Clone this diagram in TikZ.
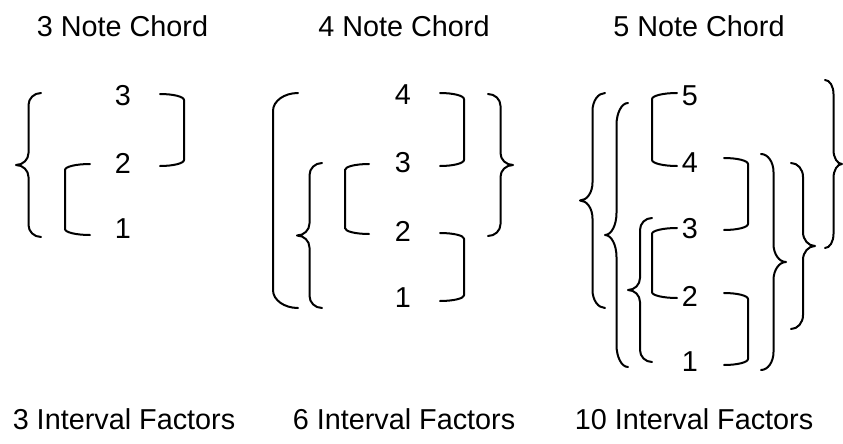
\documentclass[tikz,border=0pt]{standalone}
\usepackage{fontspec}
\setmainfont{Liberation Sans}
\newcommand{\Brk}[4]{% #1 end x, #2 line x, #3 top y, #4 bottom y
  \pgfmathsetmacro\bry{(#4-#3)/12}%
  \pgfmathsetmacro\bcx{#2+0.448*(#1-#2)}%
  \draw[brk] (#1,#3) .. controls (\bcx,#3) and (#2,{#3+0.448*\bry}) .. (#2,{#3+\bry})
    -- (#2,{#4-\bry}) .. controls (#2,{#4-0.448*\bry}) and (\bcx,#4) .. (#1,#4);}
\newcommand{\Brc}[4]{% #1 end x, #2 tip x, #3 top y, #4 bottom y
  \pgfmathsetmacro\bry{(#4-#3)/12}%
  \pgfmathsetmacro\bxm{(#1+#2)/2}%
  \pgfmathsetmacro\bym{(#3+#4)/2}%
  \pgfmathsetmacro\bca{\bxm+0.448*(#1-\bxm)}%
  \pgfmathsetmacro\bcb{#2+0.552*(\bxm-#2)}%
  \draw[brk] (#1,#3) .. controls (\bca,#3) and (\bxm,{#3+0.448*\bry}) .. (\bxm,{#3+\bry})
    -- (\bxm,{\bym-\bry}) .. controls (\bxm,{\bym-0.448*\bry}) and (\bcb,\bym) .. (#2,\bym)
    .. controls (\bcb,\bym) and (\bxm,{\bym+0.448*\bry}) .. (\bxm,{\bym+\bry})
    -- (\bxm,{#4-\bry}) .. controls (\bxm,{#4-0.448*\bry}) and (\bca,#4) .. (#1,#4);}
\begin{document}
\begin{tikzpicture}[x=0.75pt,y=-0.75pt,
  brk/.style={line width=1.5pt,line cap=round,line join=round},
  title/.style={anchor=base,inner sep=0pt,font=\fontsize{21.6}{26}\selectfont},
  dig/.style={inner sep=0pt,font=\fontsize{21.6}{26}\selectfont}]
\useasboundingbox (0,0) rectangle (843,443);
% titles
\node[title] (t1) at (122.5,36) {3 Note Chord};
\node[title] (t2) at (404,36) {4 Note Chord};
\node[title] (t3) at (699,36) {5 Note Chord};
\node[title] (b1) at (124,429) {3 Interval Factors};
\node[title] (b2) at (404,429) {6 Interval Factors};
\node[title] (b3) at (694,429) {10 Interval Factors};
% panel 1
\node[dig] (p1n3) at (123,96) {3};
\node[dig] (p1n2) at (123,163) {2};
\node[dig] (p1n1) at (123,229) {1};
\Brc{41}{16}{93}{237}
\Brk{90}{65}{164}{235}
\Brk{160}{184}{94}{166}
% panel 2
\node[dig] (p2n4) at (403,95) {4};
\node[dig] (p2n3) at (403,163) {3};
\node[dig] (p2n2) at (403,231) {2};
\node[dig] (p2n1) at (403,298) {1};
\Brk{298}{273}{93}{308}
\Brc{322}{297}{163}{308}
\Brk{369}{345}{164}{234}
\Brk{440}{464}{93}{166}
\Brk{440}{464}{233}{301}
\Brc{488}{513}{94}{236}
% panel 3
\node[dig] (p3n5) at (690,96) {5};
\node[dig] (p3n4) at (690,163) {4};
\node[dig] (p3n3) at (690,229) {3};
\node[dig] (p3n2) at (690,296) {2};
\node[dig] (p3n1) at (690,362) {1};
\Brc{605}{580}{93}{308}
\Brc{628}{605}{103}{367}
\Brc{652}{628}{218}{362}
\Brk{677}{652}{93}{166}
\Brk{677}{652}{228}{298}
\Brk{724}{748}{158}{230}
\Brk{724}{748}{293}{365}
\Brc{761}{786}{154}{370}
\Brc{791}{815}{163}{329}
\Brc{825}{842}{80}{248}
\end{tikzpicture}
\end{document}
